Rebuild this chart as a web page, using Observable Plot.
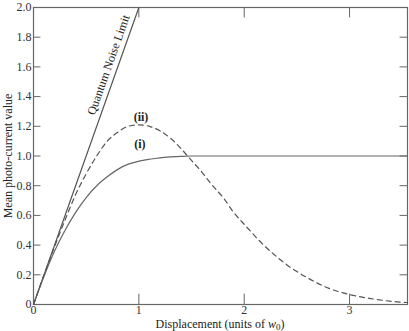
<!DOCTYPE html>
<html>
<head>
<meta charset="utf-8">
<script src="https://cdn.jsdelivr.net/npm/d3@7"></script>
<script src="https://cdn.jsdelivr.net/npm/@observablehq/plot@0.6"></script>
<style>
  html, body { margin: 0; padding: 0; background: #fff; }
  #chart { width: 409px; height: 331px; }
</style>
</head>
<body>
<div id="chart"></div>
<script>
// Quantum noise limit (straight line)
const qnlX = [0, 1.0];
const qnlY = [0, 2.0];

// Curve (i) solid
const curveIX = [0, 0.1, 0.2, 0.3, 0.4, 0.5, 0.6, 0.7, 0.8, 0.9, 1.0, 1.1, 1.2, 1.3, 1.4, 1.5, 2.0, 3.0, 3.55];
const curveIY = [0, 0.19, 0.36, 0.5, 0.62, 0.72, 0.8, 0.86, 0.91, 0.945, 0.965, 0.978, 0.988, 0.994, 0.998, 1.0, 1.0, 1.0, 1.0];

// Curve (ii) dashed
const curveIIX = [0, 0.1, 0.2, 0.3, 0.4, 0.5, 0.6, 0.7, 0.8, 0.9, 1.0, 1.1, 1.2, 1.3, 1.4, 1.5, 1.6, 1.7, 1.8, 1.9, 2.0, 2.2, 2.4, 2.6, 2.8, 3.0, 3.2, 3.4, 3.55];
const curveIIY = [0, 0.2, 0.39, 0.57, 0.74, 0.88, 1.0, 1.1, 1.16, 1.2, 1.21, 1.2, 1.17, 1.12, 1.05, 0.97, 0.89, 0.8, 0.72, 0.62, 0.54, 0.39, 0.27, 0.18, 0.11, 0.067, 0.04, 0.021, 0.013];

// Ticks
const xTicks = [0, 1, 2, 3];
const yTicks = [0, 0.2, 0.4, 0.6, 0.8, 1.0, 1.2, 1.4, 1.6, 1.8, 2.0];

// Labels
const curveLabels = ["(i)", "(ii)"];
const curveLabelX = [1.01, 1.02];
const curveLabelY = [1.08, 1.26];
const qnlLabel = "Quantum Noise Limit";
const yLabel = "Mean photo-current value";
const xLabelMain = "Displacement (units of ";
const xLabelVar = "w";
const xLabelSub = "0";
const xLabelEnd = ")";

const xMax = 3.55, yMax = 2.0;

const toPts = (xs, ys) => xs.map((x, i) => ({x, y: ys[i]}));
const qnl = toPts(qnlX, qnlY);
const c1 = toPts(curveIX, curveIY);
const c2 = toPts(curveIIX, curveIIY);
const lbls = curveLabels.map((t, i) => ({t, x: curveLabelX[i], y: curveLabelY[i]}));

const lineColor = "#555";
const axisColor = "#666";
const tickLen = 0.035; // fraction of domain

const plot = Plot.plot({
  width: 409,
  height: 331,
  marginLeft: 33,
  marginTop: 7,
  marginRight: 2,
  marginBottom: 27,
  style: {fontFamily: "'Liberation Serif', 'DejaVu Serif', serif", fontSize: "12px", color: "#333", background: "#fff"},
  x: {domain: [0, xMax]},
  y: {domain: [0, yMax]},
  marks: [
    Plot.frame({stroke: axisColor, strokeWidth: 1.2}),
    Plot.ruleX(xTicks.filter(d => d > 0), {x: d => d, y1: 0, y2: yMax * tickLen, stroke: axisColor}),
    Plot.ruleX(xTicks.filter(d => d > 0), {x: d => d, y1: yMax, y2: yMax * (1 - tickLen), stroke: axisColor}),
    Plot.ruleY(yTicks.filter(d => d > 0 && d < yMax), {y: d => d, x1: 0, x2: xMax * 0.02, stroke: axisColor}),
    Plot.ruleY(yTicks.filter(d => d > 0 && d < yMax), {y: d => d, x1: xMax, x2: xMax * 0.98, stroke: axisColor}),
    Plot.axisX(xTicks, {tickSize: 0, tickPadding: 1, label: null, fontSize: 12, fill: "#333", tickFormat: d => String(d)}),
    Plot.axisY(yTicks, {tickSize: 0, tickPadding: 2, label: null, fontSize: 12, fill: "#333", tickFormat: d => d === 0 ? "0" : d.toFixed(1)}),
    Plot.line(qnl, {x: "x", y: "y", stroke: lineColor, strokeWidth: 1.2}),
    Plot.line(c1, {x: "x", y: "y", stroke: "#666", strokeWidth: 1.2, curve: "monotone-x"}),
    Plot.line(c2, {x: "x", y: "y", stroke: lineColor, strokeWidth: 1.2, strokeDasharray: "5,4", curve: "monotone-x"}),
    Plot.text(lbls, {x: "x", y: "y", text: "t", fontWeight: "bold", fontSize: 12, fill: "#222"}),
    Plot.text([{x: 0.76, y: 1.6}], {x: "x", y: "y", text: () => qnlLabel, rotate: -70.4, fontSize: 12, fill: "#222", dx: -5, dy: -2})
  ]
});

const svg = d3.select(plot);
svg.append("text")
  .attr("transform", "translate(12,156) rotate(-90)")
  .attr("text-anchor", "middle")
  .attr("fill", "#222")
  .attr("font-size", 12)
  .text(yLabel);
const xl = svg.append("text")
  .attr("x", 220).attr("y", 328)
  .attr("text-anchor", "middle")
  .attr("fill", "#222")
  .attr("font-size", 12);
xl.append("tspan").text(xLabelMain);
xl.append("tspan").attr("font-style", "italic").text(xLabelVar);
xl.append("tspan").attr("font-size", 9).attr("dy", 2).text(xLabelSub);
xl.append("tspan").attr("dy", -2).text(xLabelEnd);

document.getElementById("chart").appendChild(plot);
</script>
</body>
</html>
